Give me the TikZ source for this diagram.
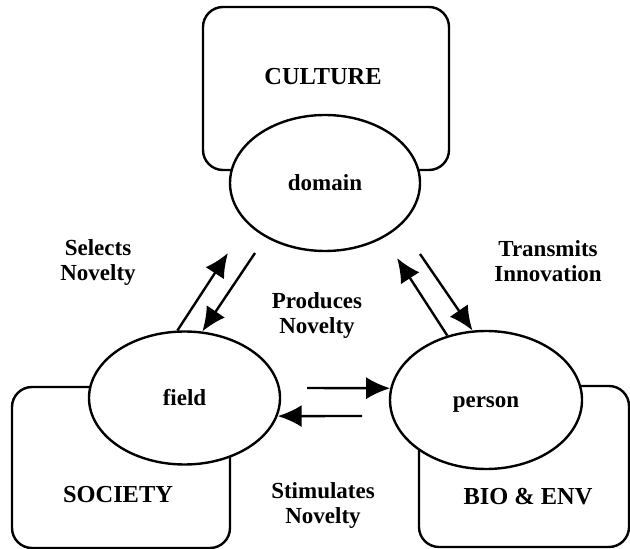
\documentclass[tikz,border=0pt]{standalone}
\usepackage{fontspec}
\setmainfont{Liberation Serif}
\usepackage{tikz}
\usetikzlibrary{shapes.geometric}
\usetikzlibrary{arrows.meta}
\tikzset{>={Latex[length=12pt, width=11pt]}}
\tikzset{realm/.style={draw, line width=1.2pt, rounded corners=10pt, inner sep=0pt}}
\tikzset{agent/.style={draw, fill=white, ellipse, line width=1.2pt, inner sep=0pt, text height=1.6ex, text depth=0pt, font=\fontsize{11.5}{12.5}\selectfont\bfseries}}
\tikzset{realmtext/.style={inner sep=0pt, font=\fontsize{12.2}{13}\selectfont\bfseries}}
\tikzset{flowtext/.style={inner sep=0pt, align=center, font=\fontsize{11.5}{12.5}\selectfont\bfseries}}
\tikzset{flow/.style={->, line width=1.2pt}}

\begin{document}
\begin{tikzpicture}[x=.5pt, y=-.5pt]
    \useasboundingbox (0, 0) rectangle (630, 549);
    \node[realm, minimum width=123pt, minimum height=81.5pt](culture) at (326, 88.5) {};
    \node[realm, minimum width=109pt, minimum height=80.5pt](society) at (121, 467.5) {};
    \node[realm, minimum width=105pt, minimum height=80.5pt](bioenv) at (524, 466.5) {};
    \node[realmtext](culturetext) at (323, 77) {CULTURE};
    \node[realmtext](societytext) at (118, 495) {SOCIETY};
    \node[realmtext](bioenvtext) at (528, 497) {BIO \& ENV};
    \node[agent, minimum width=95pt, minimum height=68pt](domain) at (325, 183) {domain};
    \node[agent, minimum width=95.5pt, minimum height=66.5pt](field) at (184.5, 398) {field};
    \node[agent, minimum width=96pt, minimum height=69pt](person) at (486, 400) {person};
    \coordinate (selectsTip) at (228, 253);
    \coordinate (producesTail) at (255, 253);
    \coordinate (transmitsTip) at (397, 258);
    \coordinate (transmitsTail) at (420, 254);
    \coordinate (stimOutTail) at (307, 388);
    \coordinate (stimInTail) at (362, 416);
    \draw[flow](field.96)--(selectsTip);
    \draw[flow](producesTail)--(field.75);
    \draw[flow](person.121)--(transmitsTip);
    \draw[flow](transmitsTail)--(person.101);
    \draw[flow](stimOutTail)--(person.173);
    \draw[flow](stimInTail)--(field.349);
    \node[flowtext](selects) at (98, 262.5) {Selects\\Novelty};
    \node[flowtext](transmits) at (548, 261) {Transmits\\Innovation};
    \node[flowtext](produces) at (317, 315.5) {Produces\\Novelty};
    \node[flowtext](stimulates) at (323, 505.5) {Stimulates\\Novelty};
\end{tikzpicture}
\end{document}
